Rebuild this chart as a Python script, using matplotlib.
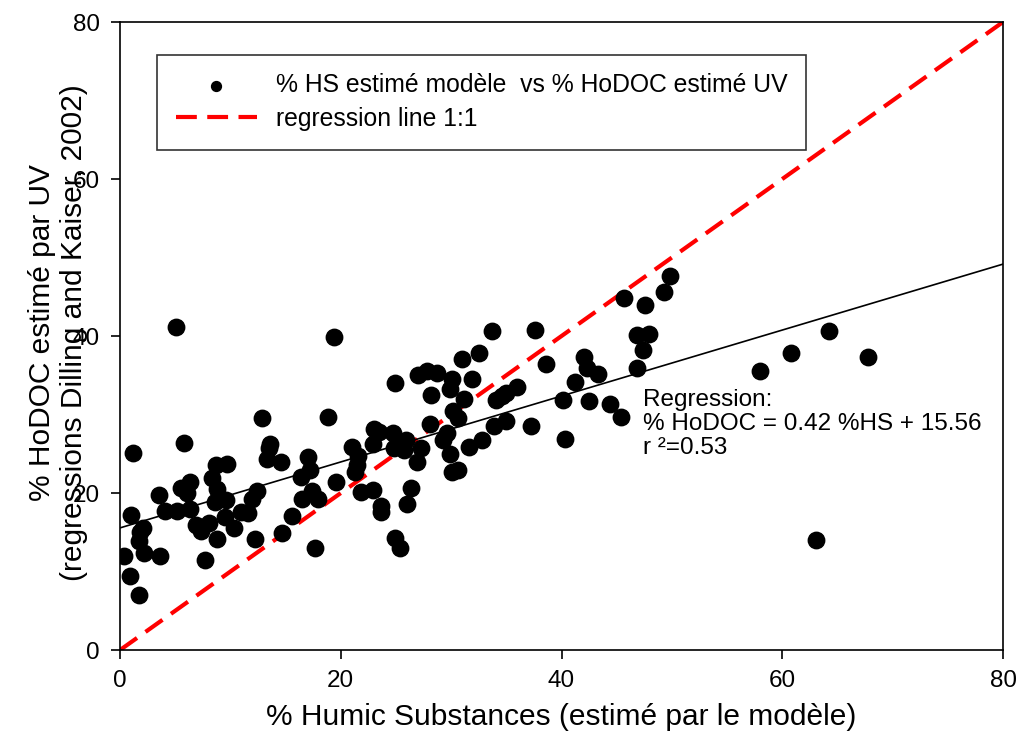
import matplotlib.pyplot as plt
import numpy as np

plt.rcParams['font.family'] = ['Liberation Sans', 'DejaVu Sans']

# % Humic Substances (model) vs % HoDOC (UV)
hs = [5.1, 19.4, 1.2, 5.8, 12.9, 18.8, 13.6, 13.5, 13.3, 14.6, 17.0, 17.2, 16.4, 19.6,
      8.7, 9.7, 8.3, 8.8, 5.5, 6.3, 6.1, 3.5, 1.0, 4.1, 5.2, 6.3, 8.6, 9.6, 12.4, 12.0,
      11.0, 11.6, 16.5, 17.4, 17.9, 15.6, 9.5, 10.3, 6.9, 7.3, 8.1, 8.8, 12.2, 14.7,
      2.1, 1.8, 1.7, 2.2, 3.6, 0.4, 7.7, 17.7, 0.9, 1.7,
      33.7, 37.6, 32.5, 31.0, 38.6, 27.0, 27.8, 28.7, 24.9, 30.1, 29.9, 31.9, 28.2, 31.2,
      36.0, 35.0, 34.6, 34.1, 40.1, 30.2, 30.6, 28.1, 29.6, 29.3, 33.9, 35.0, 37.2, 32.8,
      31.6, 40.3, 23.0, 23.5, 24.7, 22.9, 25.9, 25.7, 24.8, 27.3, 26.9, 21.0, 21.6, 21.5,
      21.3, 29.9, 30.1, 30.6, 21.8, 22.9, 23.6, 23.6, 26.4, 26.0, 24.9, 25.4,
      49.8, 49.3, 45.7, 47.6, 46.8, 47.9, 47.4, 46.8, 42.0, 42.3, 43.3, 41.2, 42.5, 44.4,
      45.4, 58.0, 60.8, 64.2, 63.1, 67.8]
hodoc = [41.1, 39.9, 25.1, 26.4, 29.5, 29.7, 26.3, 25.7, 24.3, 24.0, 24.6, 22.9, 22.1, 21.4,
         23.6, 23.7, 21.9, 20.5, 20.7, 21.4, 20.0, 19.7, 17.2, 17.7, 17.7, 18.0, 18.9, 19.1,
         20.3, 19.2, 17.6, 17.5, 19.3, 20.2, 19.2, 17.1, 16.9, 15.6, 15.9, 15.2, 16.2, 14.2,
         14.1, 14.9, 15.5, 15.0, 13.9, 12.3, 12.0, 12.0, 11.5, 13.0, 9.4, 7.0,
         40.6, 40.8, 37.8, 37.1, 36.4, 35.0, 35.5, 35.3, 34.0, 34.5, 33.2, 34.5, 32.5, 32.0,
         33.5, 32.8, 32.3, 31.8, 31.8, 30.4, 29.5, 28.8, 27.7, 26.7, 28.5, 29.2, 28.6, 26.8,
         25.9, 26.9, 28.2, 27.8, 27.6, 26.3, 26.7, 25.5, 25.7, 25.7, 24.0, 25.9, 24.7, 23.6,
         22.7, 25.0, 22.7, 22.9, 20.1, 20.4, 18.3, 17.6, 20.7, 18.6, 14.3, 13.0,
         47.6, 45.6, 44.8, 43.9, 40.1, 40.3, 38.2, 35.9, 37.3, 35.9, 35.2, 34.1, 31.7, 31.3,
         29.7, 35.6, 37.9, 40.6, 14.0, 37.3]

slope = 0.42
intercept = 15.56
line_x = [0, 80]

fig, ax = plt.subplots(figsize=(10.19, 7.34), dpi=100)
fig.subplots_adjust(left=0.1178, right=0.9843, bottom=0.1144, top=0.970)

ax.scatter(hs, hodoc, s=140, color='black', zorder=3,
           label='% HS estimé modèle  vs % HoDOC estimé UV')
ax.plot(line_x, line_x, color='red', linewidth=3, dashes=(5, 2.5),
        label='regression line 1:1', zorder=2)
ax.plot(line_x, [slope * v + intercept for v in line_x], color='black', linewidth=1.2, zorder=2)

ax.set_xlim(0, 80)
ax.set_ylim(0, 80)
ax.set_xticks([0, 20, 40, 60, 80])
ax.set_yticks([0, 20, 40, 60, 80])
ax.tick_params(direction='out', length=6.5, width=1.2, labelsize=17.5, pad=8)
for s in ax.spines.values():
    s.set_linewidth(1.2)

ax.set_xlabel('% Humic Substances (estimé par le modèle)', fontsize=21.5)
ax.xaxis.set_label_coords(0.5, -0.085)
ax.set_ylabel('% HoDOC estimé par UV\n(regressions Dilling and Kaiser, 2002)', fontsize=21.5)
ax.yaxis.set_label_coords(-0.036, 0.505)

ax.text(47.4, 33.2, 'Regression:\n% HoDOC = 0.42 %HS + 15.56\nr ²=0.53', fontsize=17.5,
        va='top', ha='left', linespacing=1.11)

leg = ax.legend(loc='upper left', bbox_to_anchor=(0.042, 0.948), fontsize=17.8,
                frameon=True, fancybox=False, edgecolor='black', markerscale=0.6,
                handlelength=3.3, borderpad=0.75, labelspacing=0.4, handletextpad=0.75,
                borderaxespad=0)
leg.get_frame().set_linewidth(1.2)

plt.savefig('out.png', dpi=100)
